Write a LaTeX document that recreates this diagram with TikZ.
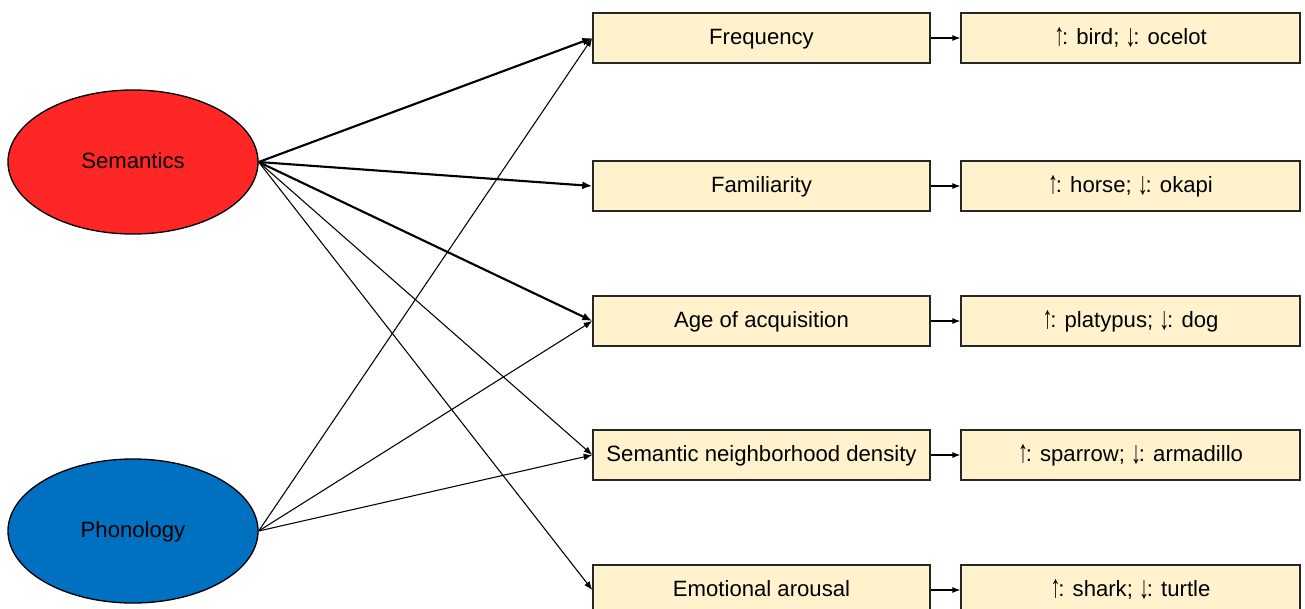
\documentclass[tikz,border=0pt]{standalone}
\usepackage{fontspec}
\usepackage{graphicx}
\setmainfont{Liberation Sans}
\usetikzlibrary{arrows.meta,shapes.geometric}
\definecolor{cream}{RGB}{255,242,204}
\definecolor{semred}{RGB}{255,38,38}
\definecolor{phonblue}{RGB}{0,112,192}
\newcommand\myuparr{\raisebox{-0.05em}{\scalebox{0.9}[1.45]{↑}}\kern-0.1em}
\newcommand\mydownarr{\raisebox{-0.12em}{\scalebox{0.9}[1.45]{↓}}\kern-0.1em}
\begin{document}
\begin{tikzpicture}[x=0.75pt,y=-0.75pt,
  txt/.style={font=\fontsize{16.6}{19}\selectfont},
  factor/.style={txt,draw=black!85,line width=1pt,fill=cream,minimum width=252.75pt,minimum height=37.5pt,inner sep=0pt,text height=0.92em,text depth=0pt},
  example/.style={txt,draw=black!85,line width=1pt,fill=cream,minimum width=254.25pt,minimum height=37.5pt,inner sep=0pt,text height=0.92em,text depth=0pt},
  source/.style={txt,ellipse,draw=black,line width=1pt,minimum width=187.5pt,minimum height=108pt,inner sep=0pt,text height=0.95em,text depth=0pt},
  thickarrow/.style={-{Latex[length=7.5pt,width=6pt]},line width=1.6pt},
  thinarrow/.style={-{Latex[length=6.5pt,width=5pt]},line width=0.8pt},
  linkarrow/.style={-{Latex[length=6pt,width=4.5pt]},line width=0.8pt}]
\useasboundingbox (0,0) rectangle (1305,608);
\node[source,fill=semred] (sem) at (133,162) {Semantics};
\node[source,fill=phonblue] (pho) at (133,531) {Phonology};

\node[factor] (f1) at (761.5,38) {Frequency};
\node[factor] (f2) at (761.5,186) {Familiarity};
\node[factor] (f3) at (761.5,321) {Age of acquisition};
\node[factor] (f4) at (761.5,455) {Semantic neighborhood density};
\node[factor] (f5) at (761.5,590) {Emotional arousal};

\node[example] (e1) at (1130.5,38) {\myuparr: bird; \mydownarr: ocelot};
\node[example] (e2) at (1130.5,186) {\myuparr: horse; \mydownarr: okapi};
\node[example] (e3) at (1130.5,321) {\myuparr: platypus; \mydownarr: dog};
\node[example] (e4) at (1130.5,455) {\myuparr: sparrow; \mydownarr: armadillo};
\node[example] (e5) at (1130.5,590) {\myuparr: shark; \mydownarr: turtle};

\draw[thickarrow] (sem.east) -- (f1.west);
\draw[thickarrow] (sem.east) -- (f2.west);
\draw[thickarrow] (sem.east) -- (f3.west);
\draw[thinarrow] (sem.east) -- (f4.west);
\draw[thinarrow] (sem.east) -- (f5.west);

\draw[thinarrow] (pho.east) -- (f1.west);
\draw[thinarrow] (pho.east) -- (f3.west);
\draw[thinarrow] (pho.east) -- (f4.west);

\foreach \i in {1,...,5} {\draw[linkarrow] (f\i.east) -- (e\i.west);}
\end{tikzpicture}
\end{document}
